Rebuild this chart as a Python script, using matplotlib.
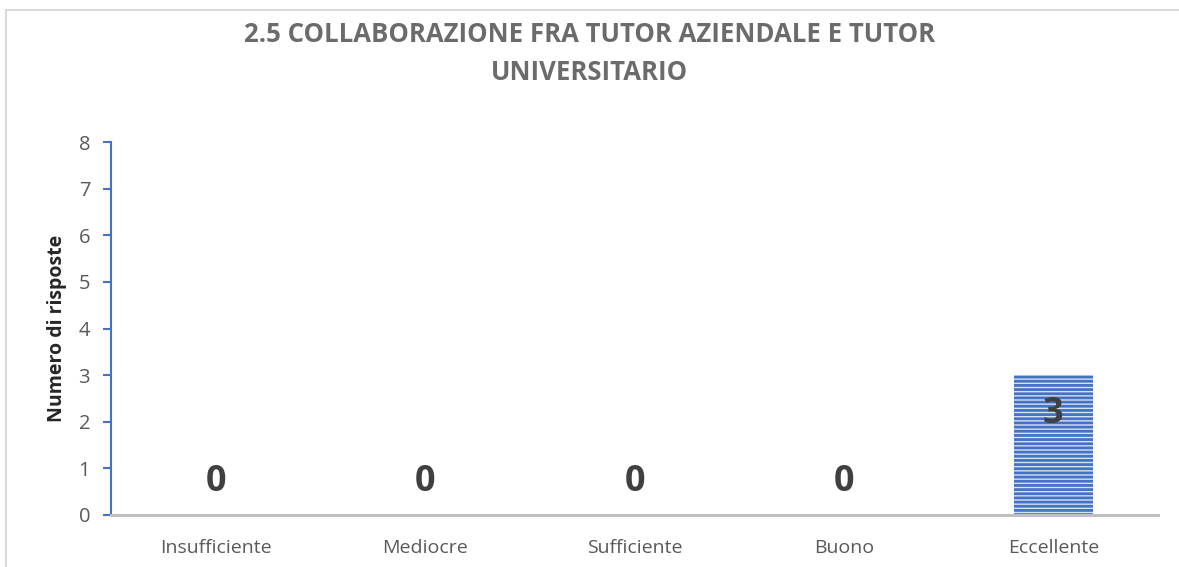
import matplotlib
matplotlib.use("Agg")
import matplotlib.pyplot as plt
from matplotlib.patches import Rectangle

categories = ["Insufficiente", "Mediocre", "Sufficiente", "Buono", "Eccellente"]
values = [0, 0, 0, 0, 3]
yticks = [0, 1, 2, 3, 4, 5, 6, 7, 8]
title_lines = ["2.5 COLLABORAZIONE FRA TUTOR AZIENDALE E TUTOR", "UNIVERSITARIO"]
ylabel = "Numero di risposte"

plt.rcParams['font.family'] = ['Open Sans', 'DejaVu Sans']
plt.rcParams['hatch.linewidth'] = 2.0
plt.rcParams['hatch.color'] = '#4472C4'

W, H = 1179, 567
fig = plt.figure(figsize=(W / 100, H / 100), dpi=100)

# outer border (chart area)
fig.add_artist(Rectangle((6 / W, -0.05), 1.2, 1 - 10 / H + 0.05, transform=fig.transFigure,
                         fill=False, edgecolor='#D9D9D9', linewidth=1.5))

ax = fig.add_axes([111 / W, 1 - 515 / H, (1158 - 111) / W, (515 - 142) / H])
x = list(range(len(categories)))
ax.bar(x, values, width=0.38, color='#D6E1F3', edgecolor='#4472C4', linewidth=0,
       hatch='----', zorder=2)
ax.set_xlim(-0.5, len(categories) - 0.5)
ax.set_ylim(0, 8)
ax.set_yticks(yticks)
ax.set_xticks(x)
ax.set_xticklabels(categories)

for s in ['top', 'right']:
    ax.spines[s].set_visible(False)
ax.spines['left'].set_color('#4472C4')
ax.spines['left'].set_linewidth(1.5)
ax.spines['bottom'].set_color('#BFBFBF')
ax.spines['bottom'].set_linewidth(2.2)
ax.spines['bottom'].set_zorder(3)
ax.tick_params(axis='y', colors='#4472C4', labelcolor='#595959', length=6, width=1.5,
               labelsize=14.5, pad=9)
ax.tick_params(axis='x', length=0, labelcolor='#595959', labelsize=14, pad=17)

ax.set_ylabel(ylabel, fontsize=14, fontweight='bold', color='#262626', labelpad=8)

for xi, v in zip(x, values):
    off = -39 if v > 0 else 33
    ax.annotate(str(v), (xi, v), xytext=(0, off * 0.72), textcoords='offset points',
                ha='center', va='center', fontsize=26, fontweight='bold', color='#404040',
                zorder=4)

fig.text(0.5, 1 - 35 / H, title_lines[0],
         ha='center', va='center', fontsize=18.5, fontweight='bold', color='#6B6B6B')
fig.text(0.5, 1 - 73 / H, title_lines[1],
         ha='center', va='center', fontsize=18.5, fontweight='bold', color='#6B6B6B')

fig.savefig("out.png", dpi=100)
